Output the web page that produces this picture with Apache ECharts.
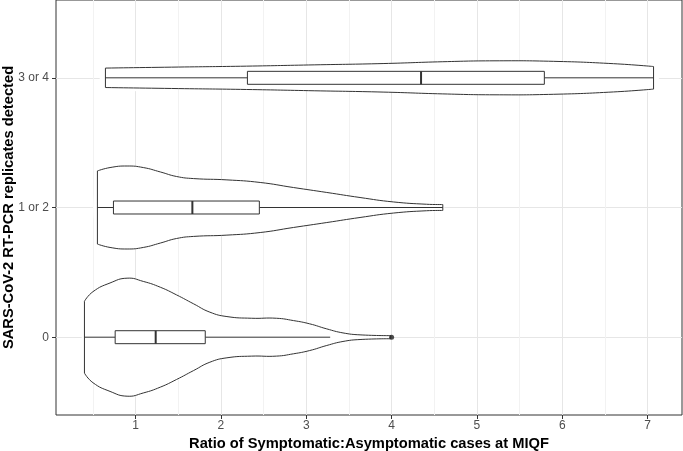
<!DOCTYPE html>
<html lang="en" style="height: 100%">
<head>
  <meta charset="utf-8">
</head>
<body style="height: 100%; margin: 0; background: #fff">
  <div id="container" style="width: 683px; height: 451px"></div>
  <script src="https://cdn.jsdelivr.net/npm/echarts@6/dist/echarts.min.js"></script>
  <script type="text/javascript">
    // categories on the y axis (bottom to top)
    const categories = ['0', '1 or 2', '3 or 4'];

    // violin outlines: x positions and half-widths (in category units)
    const violinX = [
      [0.40, 0.50, 0.70, 0.90, 1.09, 1.29, 1.48, 1.68, 1.87, 2.07, 2.36, 2.65, 2.85, 3.04, 3.24, 3.43, 3.63, 3.99],
      [0.552, 0.70, 0.90, 1.09, 1.29, 1.48, 1.68, 2.07, 2.46, 2.85, 3.24, 3.63, 4.02, 4.41, 4.60],
      [0.646, 1.5, 2.3, 3.1, 3.9, 4.6, 5.2, 5.9, 6.6, 7.07]
    ];
    const violinHalf = [
      [0.277, 0.351, 0.418, 0.455, 0.430, 0.385, 0.326, 0.257, 0.193, 0.159, 0.146, 0.146, 0.128, 0.103, 0.064, 0.033, 0.018, 0.012],
      [0.282, 0.308, 0.320, 0.308, 0.274, 0.239, 0.223, 0.213, 0.193, 0.154, 0.116, 0.077, 0.043, 0.025, 0.023],
      [0.075, 0.083, 0.090, 0.100, 0.110, 0.124, 0.131, 0.127, 0.109, 0.087]
    ];

    // box stats: [group, lower whisker, q1, median, q3, upper whisker]
    const boxStats = [
      [0, 0.40, 0.76, 1.235, 1.816, 3.28],
      [1, 0.552, 0.74, 1.665, 2.45, 4.60],
      [2, 0.646, 2.31, 4.345, 5.79, 7.07]
    ];
    // outliers: [x, group]
    const outliers = [[4.0, 0]];

    const xTicks = [1, 2, 3, 4, 5, 6, 7];
    const xMinorLines = [0.5, 1.5, 2.5, 3.5, 4.5, 5.5, 6.5];
    const yTicks = [1, 2, 3];

    const lineColor = '#333333';
    const labelFont = 'Liberation Sans';
    const curveSmooth = 0.5;

    var dom = document.getElementById('container');
    var myChart = echarts.init(dom, null, { renderer: 'canvas' });

    function renderViolin (params, api) {
      const g = params.dataIndex;
      const yc = g + 1;
      const xs = violinX[g];
      const hw = violinHalf[g];
      const upper = xs.map(function (x, k) { return api.coord([x, yc + hw[k]]); });
      const lower = xs.map(function (x, k) { return api.coord([x, yc - hw[k]]); });
      const n = xs.length - 1;
      const stroke = { fill: null, stroke: lineColor, lineWidth: 1 };
      return {
        type: 'group',
        children: [
          { type: 'polygon', shape: { points: upper.concat(lower.slice().reverse()), smooth: curveSmooth }, style: { fill: '#fff' } },
          { type: 'polyline', shape: { points: upper, smooth: curveSmooth }, style: stroke },
          { type: 'polyline', shape: { points: lower, smooth: curveSmooth }, style: stroke },
          { type: 'line', shape: { x1: upper[0][0], y1: upper[0][1], x2: lower[0][0], y2: lower[0][1] }, style: stroke },
          { type: 'line', shape: { x1: upper[n][0], y1: upper[n][1], x2: lower[n][0], y2: lower[n][1] }, style: stroke }
        ]
      };
    }

    function renderBox (params, api) {
      const yc = api.value(0) + 1;
      const lo = api.value(1), q1 = api.value(2), med = api.value(3), q3 = api.value(4), hi = api.value(5);
      const h = 0.05;
      const a = api.coord([q1, yc + h]);
      const b = api.coord([q3, yc - h]);
      const pLo = api.coord([lo, yc]);
      const pQ1 = api.coord([q1, yc]);
      const pQ3 = api.coord([q3, yc]);
      const pHi = api.coord([hi, yc]);
      const mTop = api.coord([med, yc + h]);
      const mBot = api.coord([med, yc - h]);
      const stroke = { fill: null, stroke: lineColor, lineWidth: 1 };
      return {
        type: 'group',
        children: [
          { type: 'line', shape: { x1: pLo[0], y1: pLo[1], x2: pQ1[0], y2: pQ1[1] }, style: stroke },
          { type: 'line', shape: { x1: pQ3[0], y1: pQ3[1], x2: pHi[0], y2: pHi[1] }, style: stroke },
          { type: 'rect', shape: { x: a[0], y: a[1], width: b[0] - a[0], height: b[1] - a[1] }, style: { fill: '#fff', stroke: lineColor, lineWidth: 1 } },
          { type: 'line', shape: { x1: mTop[0], y1: mTop[1], x2: mBot[0], y2: mBot[1] }, style: { stroke: lineColor, lineWidth: 2 } }
        ]
      };
    }

    var option = {
      animation: false,
      grid: {
        left: 56,
        right: 1,
        top: 0,
        bottom: 36,
        containLabel: false,
        outerBoundsMode: 'none',
        show: true,
        borderColor: lineColor,
        borderWidth: 1,
        backgroundColor: '#fff'
      },
      xAxis: [
        {
          type: 'value',
          min: 0.0667,
          max: 7.4033,
          name: 'Ratio of Symptomatic:Asymptomatic cases at MIQF',
          nameLocation: 'middle',
          nameGap: 21,
          nameMoveOverlap: false,
          nameTextStyle: { fontFamily: labelFont, fontWeight: 'bold', fontSize: 14.7, color: '#000' },
          axisLine: { show: false },
          axisTick: { show: true, length: 4, customValues: xTicks, lineStyle: { color: lineColor } },
          axisLabel: { customValues: xTicks, margin: 5, fontFamily: labelFont, fontSize: 12, color: '#4d4d4d' },
          splitLine: { show: true, lineStyle: { color: '#e6e6e6', width: 1 } }
        },
        {
          type: 'value',
          min: 0.0667,
          max: 7.4033,
          position: 'bottom',
          axisLine: { show: false },
          axisTick: { show: false, customValues: xMinorLines },
          axisLabel: { show: false, customValues: xMinorLines },
          splitLine: { show: true, lineStyle: { color: '#f2f2f2', width: 1 } }
        }
      ],
      yAxis: {
        type: 'value',
        min: 0.4,
        max: 3.6,
        name: 'SARS-CoV-2 RT-PCR replicates detected',
        nameLocation: 'middle',
        nameRotate: 90,
        nameGap: 40,
        nameMoveOverlap: false,
        nameTextStyle: { fontFamily: labelFont, fontWeight: 'bold', fontSize: 14.7, color: '#000' },
        axisLine: { show: false },
        axisTick: { show: true, length: 4, customValues: yTicks, lineStyle: { color: lineColor } },
        axisLabel: {
          customValues: yTicks,
          margin: 7,
          fontFamily: labelFont,
          fontSize: 12,
          color: '#4d4d4d',
          formatter: function (v) { return categories[Math.round(v) - 1]; }
        },
        splitLine: { show: true, lineStyle: { color: '#e6e6e6', width: 1 } }
      },
      series: [
        {
          type: 'custom',
          renderItem: renderViolin,
          data: categories.map(function (c, i) { return [i]; }),
          encode: { x: -1, y: 0 },
          silent: true
        },
        {
          type: 'custom',
          renderItem: renderBox,
          data: boxStats,
          encode: { x: [1, 2, 3, 4, 5], y: 0 },
          silent: true
        },
        {
          type: 'scatter',
          data: outliers.map(function (o) { return [o[0], o[1] + 1]; }),
          symbolSize: 5,
          itemStyle: { color: '#222' },
          silent: true
        }
      ]
    };

    myChart.setOption(option);
    window.addEventListener('resize', myChart.resize);
  </script>
</body>
</html>
